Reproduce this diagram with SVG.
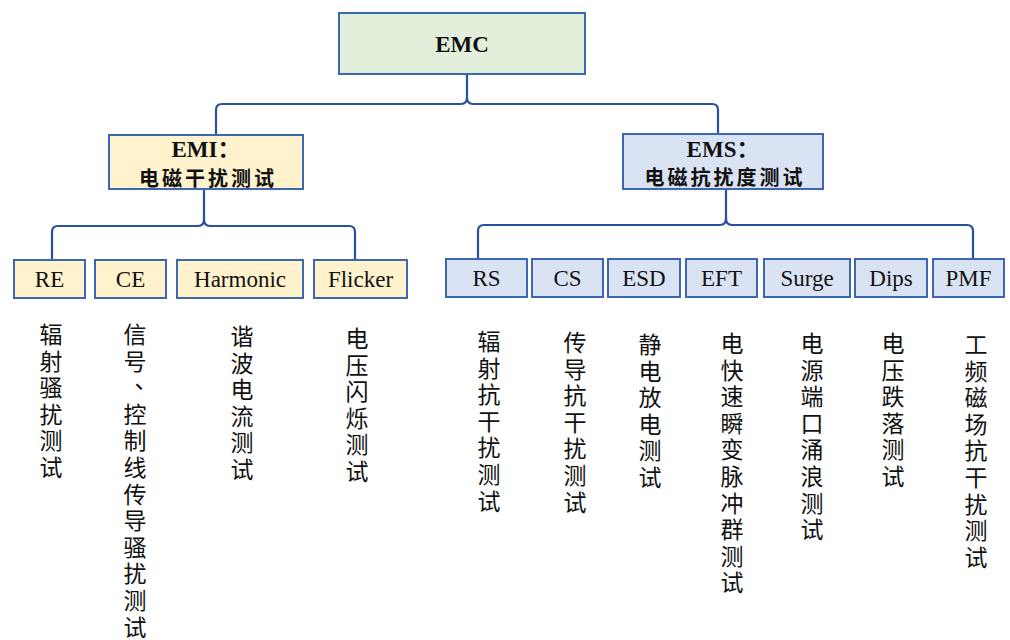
<svg xmlns="http://www.w3.org/2000/svg" width="1010" height="640" viewBox="0 0 1010 640">
  <style>
    .box { stroke: #3d67b1; stroke-width: 2; }
    .root { fill: #e2efda; }
    .emi { fill: #fff2cc; }
    .ems { fill: #dae3f3; }
    .wire { fill: none; stroke: #2750a2; stroke-width: 2.2; stroke-linecap: round; stroke-linejoin: round; }
    .lbl { font-family: "Liberation Serif", "Noto Sans CJK SC", serif; font-size: 23px; fill: #111; text-anchor: middle; }
    .head { font-family: "Liberation Serif", "Noto Sans CJK SC", serif; font-size: 23px; font-weight: bold; fill: #111; text-anchor: middle; }
    .cn { font-family: "Noto Sans CJK SC", sans-serif; font-size: 20px; font-weight: bold; fill: #111; text-anchor: middle; letter-spacing: 3px; }
    .col { font-family: "Noto Sans CJK SC", sans-serif; font-size: 23px; fill: #111; text-anchor: middle; }
  </style>
  <rect width="1010" height="640" fill="#ffffff"/>

  <!-- bracket connectors -->
  <g id="connectors">
    <path class="wire" d="M467,74 V97 Q467,104 461,104 H222 Q216,104 216,110 V135"/>
    <path class="wire" d="M467,97 Q467,104 473,104 H712 Q718,104 718,110 V134"/>
    <path class="wire" d="M204,189 V219 Q204,226 198,226 H58 Q52,226 52,232 V260"/>
    <path class="wire" d="M204,219 Q204,226 210,226 H349 Q355,226 355,232 V260"/>
    <path class="wire" d="M726,189 V218 Q726,225 720,225 H484 Q478,225 478,231 V259"/>
    <path class="wire" d="M726,218 Q726,225 732,225 H967 Q973,225 973,231 V259"/>
  </g>

  <g id="emc">
    <rect class="box root" x="339" y="13" width="246" height="61"/>
    <text class="head" x="462" y="52">EMC</text>
  </g>

  <g id="emi">
    <rect class="box emi" x="109" y="135" width="194" height="54"/>
    <text class="head" x="206" y="157">EMI：</text>
    <text class="cn" x="208" y="186">电磁干扰测试</text>
  </g>

  <g id="ems">
    <rect class="box ems" x="623" y="134" width="200" height="55"/>
    <text class="head" x="723" y="157">EMS：</text>
    <text class="cn" x="725" y="185">电磁抗扰度测试</text>
  </g>

  <!-- EMI leaves -->
  <g id="re"><rect class="box emi" x="14" y="260" width="71" height="38"/><text class="lbl" x="49.5" y="287">RE</text></g>
  <g id="ce"><rect class="box emi" x="95" y="260" width="71" height="38"/><text class="lbl" x="130.5" y="287">CE</text></g>
  <g id="harmonic"><rect class="box emi" x="177" y="260" width="126" height="38"/><text class="lbl" x="240" y="287">Harmonic</text></g>
  <g id="flicker"><rect class="box emi" x="314" y="260" width="93" height="38"/><text class="lbl" x="360.5" y="287">Flicker</text></g>

  <!-- EMS leaves -->
  <g id="rs"><rect class="box ems" x="446" y="259" width="81" height="38"/><text class="lbl" x="486.5" y="286">RS</text></g>
  <g id="cs"><rect class="box ems" x="532" y="259" width="71" height="38"/><text class="lbl" x="567.5" y="286">CS</text></g>
  <g id="esd"><rect class="box ems" x="608" y="259" width="72" height="38"/><text class="lbl" x="644" y="286">ESD</text></g>
  <g id="eft"><rect class="box ems" x="686" y="259" width="71" height="38"/><text class="lbl" x="721.5" y="286">EFT</text></g>
  <g id="surge"><rect class="box ems" x="764" y="259" width="86" height="38"/><text class="lbl" x="807" y="286">Surge</text></g>
  <g id="dips"><rect class="box ems" x="855" y="259" width="72" height="38"/><text class="lbl" x="891" y="286">Dips</text></g>
  <g id="pmf"><rect class="box ems" x="933" y="259" width="71" height="38"/><text class="lbl" x="968.5" y="286">PMF</text></g>

  <!-- vertical descriptions, one glyph per line -->
  <g id="desc-re"><text class="col" y="343"><tspan x="51">辐</tspan><tspan x="51" dy="26.6">射</tspan><tspan x="51" dy="26.6">骚</tspan><tspan x="51" dy="26.6">扰</tspan><tspan x="51" dy="26.6">测</tspan><tspan x="51" dy="26.6">试</tspan></text></g>
  <g id="desc-ce"><text class="col" y="343"><tspan x="135">信</tspan><tspan x="135" dy="26.6">号</tspan><tspan x="146" dy="18.6">、</tspan><tspan x="135" dy="34.6">控</tspan><tspan x="135" dy="26.6">制</tspan><tspan x="135" dy="26.6">线</tspan><tspan x="135" dy="26.6">传</tspan><tspan x="135" dy="26.6">导</tspan><tspan x="135" dy="26.6">骚</tspan><tspan x="135" dy="26.6">扰</tspan><tspan x="135" dy="26.6">测</tspan><tspan x="135" dy="26.6">试</tspan></text></g>
  <g id="desc-harmonic"><text class="col" y="345"><tspan x="242">谐</tspan><tspan x="242" dy="26.6">波</tspan><tspan x="242" dy="26.6">电</tspan><tspan x="242" dy="26.6">流</tspan><tspan x="242" dy="26.6">测</tspan><tspan x="242" dy="26.6">试</tspan></text></g>
  <g id="desc-flicker"><text class="col" y="347"><tspan x="357">电</tspan><tspan x="357" dy="26.6">压</tspan><tspan x="357" dy="26.6">闪</tspan><tspan x="357" dy="26.6">烁</tspan><tspan x="357" dy="26.6">测</tspan><tspan x="357" dy="26.6">试</tspan></text></g>

  <g id="desc-rs"><text class="col" y="350"><tspan x="489">辐</tspan><tspan x="489" dy="26.6">射</tspan><tspan x="489" dy="26.6">抗</tspan><tspan x="489" dy="26.6">干</tspan><tspan x="489" dy="26.6">扰</tspan><tspan x="489" dy="26.6">测</tspan><tspan x="489" dy="26.6">试</tspan></text></g>
  <g id="desc-cs"><text class="col" y="351"><tspan x="575">传</tspan><tspan x="575" dy="26.6">导</tspan><tspan x="575" dy="26.6">抗</tspan><tspan x="575" dy="26.6">干</tspan><tspan x="575" dy="26.6">扰</tspan><tspan x="575" dy="26.6">测</tspan><tspan x="575" dy="26.6">试</tspan></text></g>
  <g id="desc-esd"><text class="col" y="353"><tspan x="650">静</tspan><tspan x="650" dy="26.6">电</tspan><tspan x="650" dy="26.6">放</tspan><tspan x="650" dy="26.6">电</tspan><tspan x="650" dy="26.6">测</tspan><tspan x="650" dy="26.6">试</tspan></text></g>
  <g id="desc-eft"><text class="col" y="352"><tspan x="732">电</tspan><tspan x="732" dy="26.6">快</tspan><tspan x="732" dy="26.6">速</tspan><tspan x="732" dy="26.6">瞬</tspan><tspan x="732" dy="26.6">变</tspan><tspan x="732" dy="26.6">脉</tspan><tspan x="732" dy="26.6">冲</tspan><tspan x="732" dy="26.6">群</tspan><tspan x="732" dy="26.6">测</tspan><tspan x="732" dy="26.6">试</tspan></text></g>
  <g id="desc-surge"><text class="col" y="352"><tspan x="812">电</tspan><tspan x="812" dy="26.6">源</tspan><tspan x="812" dy="26.6">端</tspan><tspan x="812" dy="26.6">口</tspan><tspan x="812" dy="26.6">涌</tspan><tspan x="812" dy="26.6">浪</tspan><tspan x="812" dy="26.6">测</tspan><tspan x="812" dy="26.6">试</tspan></text></g>
  <g id="desc-dips"><text class="col" y="352"><tspan x="893">电</tspan><tspan x="893" dy="26.6">压</tspan><tspan x="893" dy="26.6">跌</tspan><tspan x="893" dy="26.6">落</tspan><tspan x="893" dy="26.6">测</tspan><tspan x="893" dy="26.6">试</tspan></text></g>
  <g id="desc-pmf"><text class="col" y="353"><tspan x="976">工</tspan><tspan x="976" dy="26.6">频</tspan><tspan x="976" dy="26.6">磁</tspan><tspan x="976" dy="26.6">场</tspan><tspan x="976" dy="26.6">抗</tspan><tspan x="976" dy="26.6">干</tspan><tspan x="976" dy="26.6">扰</tspan><tspan x="976" dy="26.6">测</tspan><tspan x="976" dy="26.6">试</tspan></text></g>
</svg>
